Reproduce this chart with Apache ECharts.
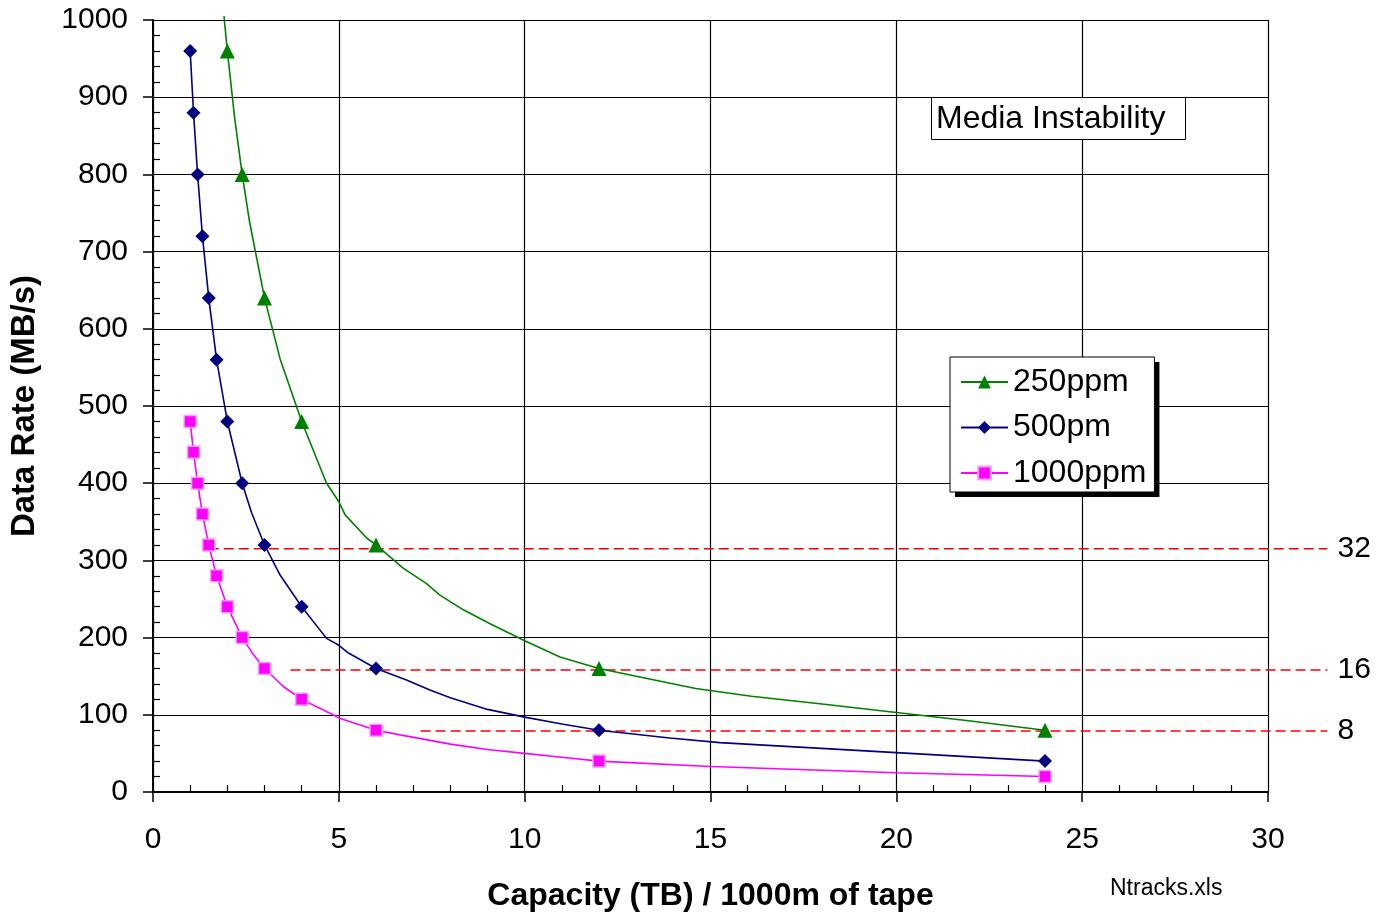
<!DOCTYPE html>
<html><head><meta charset="utf-8">
<script src="https://cdn.jsdelivr.net/npm/echarts@6/dist/echarts.min.js"></script>
<style>html,body{margin:0;padding:0;background:#fff}#c{width:1379px;height:913px}</style>
</head><body><div id="c"></div>
<script>
// ---- data ----
const seriesNames = ['250ppm', '500pm', '1000ppm'];

const ppm250X = [1.91, 2.0, 2.2, 2.4, 2.6, 3.0, 3.42, 4.0, 4.67, 5.0, 5.17, 5.75, 6.0, 6.73, 7.36, 7.72, 8.35, 9.07, 10.0, 10.95, 12.0, 13.0, 14.6, 16.1, 18.0, 20.0, 22.0, 24.0];
const ppm250Y = [1005, 960, 872, 800, 738, 640, 561, 480, 400, 376, 359, 329, 320, 290, 270, 255, 236, 218, 196, 175, 160, 150, 134, 124, 114, 103, 92, 80];
const ppm250MarkX = [2.0, 2.4, 3.0, 4.0, 6.0, 12.0, 24.0];

const ppm500X = [1.0, 1.09, 1.2, 1.33, 1.5, 1.71, 2.0, 2.4, 2.65, 3.0, 3.42, 4.0, 4.67, 5.0, 5.26, 6.0, 6.82, 7.45, 8.0, 9.0, 10.0, 11.0, 12.0, 13.9, 15.25, 20.0, 24.0];
const ppm500Y = [960, 880, 800, 720, 640, 560, 480, 400, 362, 320, 281, 240, 199, 190, 180, 160, 145, 132, 122, 107, 97, 88, 80, 70, 64, 51, 40];
const ppm500MarkX = [1.0, 1.09, 1.2, 1.33, 1.5, 1.71, 2.0, 2.4, 3.0, 4.0, 6.0, 12.0, 24.0];

const ppm1000X = [1.0, 1.09, 1.2, 1.33, 1.5, 1.71, 2.0, 2.4, 2.7, 3.0, 3.5, 4.0, 4.76, 5.0, 6.0, 6.65, 8.0, 9.0, 10.0, 11.0, 12.0, 15.0, 20.0, 24.0];
const ppm1000Y = [480, 440, 400, 360, 320, 280, 240, 200, 178, 160, 137, 120, 102, 96, 80, 74, 62, 55, 50, 45, 40, 33, 25, 20];
const ppm1000MarkX = [1.0, 1.09, 1.2, 1.33, 1.5, 1.71, 2.0, 2.4, 3.0, 4.0, 6.0, 12.0, 24.0];

const refLabels = ['32', '16', '8'];
const refY = [315, 158, 79];
const refStartX = [1.5, 3.7, 7.2];
const refEndX = 31.6;

const xMin = 0, xMax = 30, xStep = 5;
const yMin = 0, yMax = 1000, yStep = 100;

// ---- build ----
function build(xs, ys, marks) {
  return xs.map((x, i) => {
    const item = { value: [x, ys[i]] };
    if (marks.indexOf(x) < 0) item.symbol = 'none';
    return item;
  });
}
const FONT = '"Liberation Sans", Arial, sans-serif';

const refSeries = {
  type: 'custom', name: 'ref', xAxisIndex: 0, yAxisIndex: 0, clip: false, silent: true, z: 1,
  data: refLabels.map((l, i) => [refStartX[i], refEndX, refY[i], i]),
  encode: { x: [0, 1], y: 2 },
  renderItem: function (params, api) {
    const i = api.value(3);
    const p0 = api.coord([api.value(0), api.value(2)]);
    const p1 = api.coord([api.value(1), api.value(2)]);
    return { type: 'group', children: [
      { type: 'line', shape: { x1: p0[0], y1: p0[1], x2: p1[0], y2: p1[1] },
        style: { stroke: '#ff0000', lineWidth: 1.6, lineDash: [10, 5] } },
      { type: 'text', x: p1[0] + 10, y: p1[1],
        style: { text: refLabels[i], fill: '#000', font: '30px ' + FONT, align: 'left', verticalAlign: 'middle' } }
    ]};
  }
};

const legendBase = {
  data: seriesNames, orient: 'vertical', left: 950, top: 357,
  backgroundColor: '#fff',
  padding: [9, 8, 3, 10], itemWidth: 47, itemHeight: 16, itemGap: 13.5,
  textStyle: { fontSize: 32, color: '#000', fontFamily: FONT, lineHeight: 32 }
};

const chart = echarts.init(document.getElementById('c'), null, { renderer: 'canvas' });
chart.setOption({
  animation: false,
  backgroundColor: '#fff',
  textStyle: { fontFamily: FONT, color: '#000' },
  title: [
    { text: 'Media Instability', left: 931, top: 97, backgroundColor: '#fff',
      borderColor: '#000', borderWidth: 1, padding: [5, 20, 4, 5],
      textStyle: { fontSize: 32, fontWeight: 'normal', color: '#000', fontFamily: FONT, lineHeight: 34 } },
    { text: 'Ntracks.xls', left: 1110, top: 877, padding: 0,
      textStyle: { fontSize: 23, fontWeight: 'normal', color: '#000', fontFamily: FONT } }
  ],
  legend: [
    Object.assign({}, legendBase, { z: 4, borderWidth: 0,
      shadowColor: '#000', shadowBlur: 0, shadowOffsetX: 5, shadowOffsetY: 5 }),
    Object.assign({}, legendBase, { z: 5, borderColor: '#000', borderWidth: 1 })
  ],
  grid: { left: 153, right: 111, top: 20, bottom: 121, containLabel: false, outerBoundsMode: 'none' },
  xAxis: [
    { type: 'value', min: xMin, max: xMax, interval: xStep,
      name: 'Capacity (TB) / 1000m of tape', nameLocation: 'middle', nameGap: 88,
      nameTextStyle: { fontSize: 32, fontWeight: 'bold', color: '#000', fontFamily: FONT },
      axisLine: { show: true, lineStyle: { color: '#000', width: 2 } },
      axisTick: { show: true, inside: false, length: 10, lineStyle: { color: '#000', width: 1.5 } },
      axisLabel: { fontSize: 30, color: '#000', margin: 33, fontFamily: FONT, formatter: v => String(v) },
      splitLine: { show: true, lineStyle: { color: '#000', width: 1.2 } } },
    { type: 'value', min: xMin, max: xMax, interval: xStep, position: 'bottom',
      axisLine: { show: false }, axisLabel: { show: false }, splitLine: { show: false },
      axisTick: { show: false, inside: true },
      minorTick: { show: true, splitNumber: 5, length: 7, lineStyle: { color: '#000', width: 1.2 } } }
  ],
  yAxis: [
    { type: 'value', min: yMin, max: yMax, interval: yStep,
      name: 'Data Rate (MB/s)', nameLocation: 'middle', nameGap: 112,
      nameTextStyle: { fontSize: 33, fontWeight: 'bold', color: '#000', fontFamily: FONT },
      axisLine: { show: true, lineStyle: { color: '#000', width: 2 } },
      axisTick: { show: true, inside: false, length: 10, lineStyle: { color: '#000', width: 1.5 } },
      axisLabel: { fontSize: 30, color: '#000', margin: 25, fontFamily: FONT, formatter: v => String(v) },
      splitLine: { show: true, lineStyle: { color: '#000', width: 1.2 } } },
    { type: 'value', min: yMin, max: yMax, interval: yStep, position: 'left',
      axisLine: { show: false }, axisLabel: { show: false }, splitLine: { show: false },
      axisTick: { show: false, inside: true },
      minorTick: { show: true, splitNumber: 5, length: 7, lineStyle: { color: '#000', width: 1.2 } } }
  ],
  series: [
    { type: 'line', name: seriesNames[0], data: build(ppm250X, ppm250Y, ppm250MarkX), clip: false,
      symbol: 'triangle', symbolSize: 15, showSymbol: true, z: 3,
      lineStyle: { color: '#008000', width: 1.6 }, itemStyle: { color: '#008000' } },
    { type: 'line', name: seriesNames[1], data: build(ppm500X, ppm500Y, ppm500MarkX),
      symbol: 'diamond', symbolSize: 14, showSymbol: true, z: 3,
      lineStyle: { color: '#000080', width: 1.6 }, itemStyle: { color: '#000080' } },
    { type: 'line', name: seriesNames[2], data: build(ppm1000X, ppm1000Y, ppm1000MarkX),
      symbol: 'rect', symbolSize: 12, showSymbol: true, z: 3,
      lineStyle: { color: '#ff00ff', width: 1.6 },
      itemStyle: { color: '#ff00ff', borderColor: '#ff9cff', borderWidth: 1.5 } },
    refSeries
  ]
});
</script></body></html>
